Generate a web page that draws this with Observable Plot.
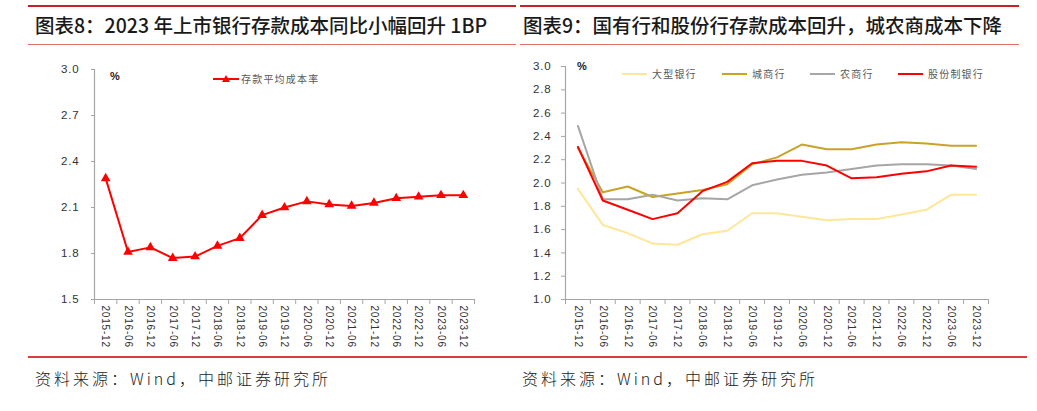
<!DOCTYPE html>
<html>
<head>
<meta charset="utf-8">
<script src="https://cdn.jsdelivr.net/npm/d3@7"></script>
<script src="https://cdn.jsdelivr.net/npm/@observablehq/plot@0.6"></script>
<style>
  body { margin: 0; background: #fff; }
  #wrap { position: relative; width: 1037px; height: 411px; background: #fff; overflow: hidden;
          font-family: "Noto Sans CJK SC", "Noto Sans", sans-serif; }
  .abs { position: absolute; }
  .topline { position: absolute; top: 5px; height: 2px; background: #C8202A; }
  .subline { position: absolute; top: 44px; height: 1px; background: #E07070; }
  .title { position: absolute; top: 11px; font-size: 19.5px; font-weight: 500; color: #1a1a1a; white-space: nowrap; line-height: 28px; }
  .src { position: absolute; top: 366px; font-size: 16px; color: #222; white-space: nowrap; letter-spacing: 3px; font-weight: 300; }
  .leg { position: absolute; font-size: 10px; color: #595959; white-space: nowrap; letter-spacing: 1.2px; line-height: 14px; }
  .pct { position: absolute; font-size: 11px; font-weight: 700; color: #222; font-family: "Liberation Sans", Arial, sans-serif; }
  .swatch { position: absolute; height: 2px; }
</style>
</head>
<body>
<div id="wrap">
  <div class="topline" style="left:28px;width:488px"></div>
  <div class="topline" style="left:520px;width:499px"></div>
  <div class="title" style="left:35px">图表8：2023 年上市银行存款成本同比小幅回升 1BP</div>
  <div class="title" style="left:523px">图表9：国有行和股份行存款成本回升，城农商成本下降</div>
  <div class="subline" style="left:28px;width:488px"></div>
  <div class="subline" style="left:520px;width:499px"></div>
  <div id="left" class="abs" style="left:28px;top:50px"></div>
  <div id="right" class="abs" style="left:520px;top:50px"></div>
  <div class="pct" style="left:110px;top:70px">%</div>
  <div class="pct" style="left:577px;top:60px">%</div>
  <div id="legL"></div>
  <div id="legR"></div>
  <div class="abs" style="left:28px;top:356px;width:999px;height:1.5px;background:#E03A3A"></div>
  <div class="src" style="left:35px">资料来源：Wind，中邮证券研究所</div>
  <div class="src" style="left:522px">资料来源：Wind，中邮证券研究所</div>
</div>
<script>
// ---- data ----
const dates = ["2015-12","2016-06","2016-12","2017-06","2017-12","2018-06","2018-12","2019-06","2019-12",
               "2020-06","2020-12","2021-06","2021-12","2022-06","2022-12","2023-06","2023-12"];
const avgCost = [2.29,1.81,1.84,1.77,1.78,1.85,1.90,2.05,2.10,2.14,2.12,2.11,2.13,2.16,2.17,2.18,2.18];
const leftSeriesName = "存款平均成本率";
const leftYTicks = [1.5,1.8,2.1,2.4,2.7,3.0];

const seriesNames = ["大型银行","城商行","农商行","股份制银行"];
const largeBank = [1.95,1.64,1.57,1.48,1.47,1.56,1.59,1.74,1.74,1.71,1.68,1.69,1.69,1.73,1.77,1.90,1.90];
const cityBank  = [2.30,1.92,1.97,1.88,1.91,1.94,1.99,2.16,2.22,2.33,2.29,2.29,2.33,2.35,2.34,2.32,2.32];
const ruralBank = [2.49,1.86,1.86,1.90,1.85,1.87,1.86,1.98,2.03,2.07,2.09,2.12,2.15,2.16,2.16,2.15,2.12];
const jointBank = [2.31,1.85,1.77,1.69,1.74,1.93,2.01,2.17,2.19,2.19,2.15,2.04,2.05,2.08,2.10,2.15,2.14];
const seriesColors = ["#FFE699","#C9A227","#A6A6A6","#FF0000"];
const rightYTicks = [1.0,1.2,1.4,1.6,1.8,2.0,2.2,2.4,2.6,2.8,3.0];

// ---- helpers ----
const n = dates.length;
const idx = d3.range(n);
const axisGray = "#A6A6A6";
const tickFont = "Liberation Sans, Arial, sans-serif";

function xAxes() {
  return [
    Plot.axisX(d3.range(n + 1), {tickSize: 5, tickFormat: () => "", stroke: axisGray, label: null}),
    Plot.axisX(idx.map(i => i + 0.5), {tickSize: 0, tickPadding: 6, tickRotate: 90,
      tickFormat: v => dates[Math.round(v - 0.5)], fill: "#333", fontSize: 10, label: null})
  ];
}

// ---- left chart ----
const left = Plot.plot({
  width: 487, height: 300,
  marginLeft: 66, marginRight: 41, marginTop: 19, marginBottom: 51,
  style: {fontFamily: tickFont, background: "transparent", overflow: "visible"},
  x: {type: "linear", domain: [0, n], axis: null},
  y: {domain: [1.5, 3.0], axis: null},
  marks: [
    Plot.ruleX([0], {stroke: axisGray, strokeWidth: 1.2}),
    Plot.ruleY([1.5], {stroke: axisGray, strokeWidth: 1.2}),
    Plot.axisY(leftYTicks, {tickSize: 3, tickPadding: 12, stroke: axisGray, fill: "#333",
      fontSize: 11.5, tickFormat: d3.format(".1f"), label: null}),
    ...xAxes(),
    Plot.line(idx, {x: i => i + 0.5, y: i => avgCost[i], stroke: "#FF0000", strokeWidth: 2}),
    Plot.dot(idx, {x: i => i + 0.5, y: i => avgCost[i], symbol: "triangle", fill: "#FF0000", r: 3.6})
  ]
});
left.querySelectorAll("text").forEach(t => t.setAttribute("letter-spacing", "0.8"));
document.getElementById("left").appendChild(left);

// ---- right chart ----
const rows = [];
[largeBank, cityBank, ruralBank, jointBank].forEach((arr, s) =>
  arr.forEach((v, i) => rows.push({s: seriesNames[s], i, v})));
const right = Plot.plot({
  width: 510, height: 300,
  marginLeft: 45, marginRight: 42, marginTop: 16, marginBottom: 51,
  style: {fontFamily: tickFont, background: "transparent", overflow: "visible"},
  x: {type: "linear", domain: [0, n], axis: null},
  y: {domain: [1.0, 3.0], axis: null},
  color: {domain: seriesNames, range: seriesColors},
  marks: [
    Plot.ruleX([0], {stroke: axisGray, strokeWidth: 1.2}),
    Plot.ruleY([1.0], {stroke: axisGray, strokeWidth: 1.2}),
    Plot.axisY(rightYTicks, {tickSize: 4, tickPadding: 10, stroke: axisGray, fill: "#333",
      fontSize: 11.5, tickFormat: d3.format(".1f"), label: null}),
    ...xAxes(),
    Plot.line(rows, {x: d => d.i + 0.5, y: "v", z: "s", stroke: "s", strokeWidth: 2})
  ]
});
right.querySelectorAll("text").forEach(t => t.setAttribute("letter-spacing", "0.8"));
document.getElementById("right").appendChild(right);

// ---- legends ----
const legL = document.getElementById("legL");
legL.innerHTML = `<svg class="abs" style="left:212px;top:73px" width="28" height="12">
  <line x1="1" y1="6" x2="27" y2="6" stroke="#FF0000" stroke-width="2"/>
  <path d="M14,2 L18,9 L10,9 Z" fill="#FF0000"/></svg>
  <div class="leg" style="left:241px;top:72px">${leftSeriesName}</div>`;

const legR = document.getElementById("legR");
const swX = [622, 722, 810, 898];
legR.innerHTML = seriesNames.map((s, k) =>
  `<div class="swatch" style="left:${swX[k]}px;top:73px;width:25px;background:${seriesColors[k]}"></div>
   <div class="leg" style="left:${swX[k] + 30}px;top:67px">${s}</div>`).join("");
</script>
</body>
</html>
